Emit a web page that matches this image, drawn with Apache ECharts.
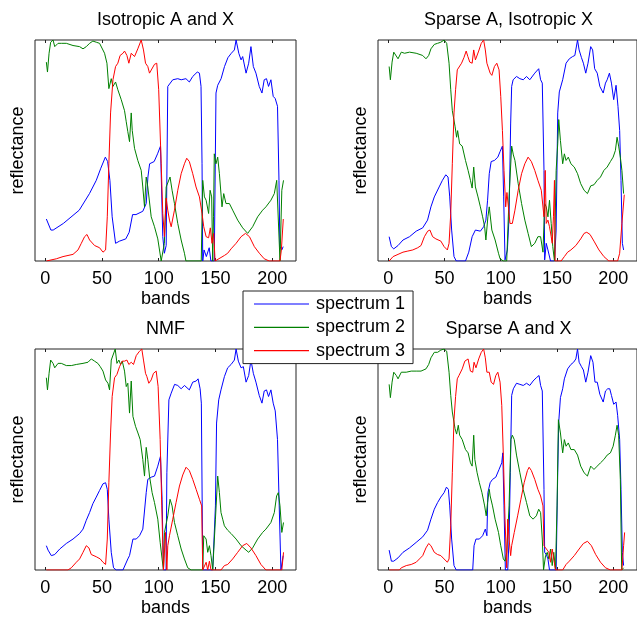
<!DOCTYPE html>
<html><head><meta charset="utf-8">
<script src="https://cdn.jsdelivr.net/npm/echarts@6/dist/echarts.min.js"></script>
<style>html,body{margin:0;padding:0;background:#fff}#c{width:637px;height:618px}</style>
</head><body><div id="c"></div>
<script>
// ---- tick labels, titles, names ----
const tickValues = [0, 50, 100, 150, 200];
const panelTitles = ['Isotropic A and X', 'Sparse A, Isotropic X', 'NMF', 'Sparse A and X'];
const seriesNames = ['spectrum 1', 'spectrum 2', 'spectrum 3'];

// ---- Panel 1: Isotropic A and X  [band, reflectance] ----
const isoS1 = [[1,0.19],[5,0.14],[7,0.14],[16,0.17],[30,0.23],[39,0.305],[45,0.365],[49,0.42],[53,0.47],[55,0.45],[57,0.365],[59,0.20],[62,0.08],[65.5,0.09],[71,0.10],[74,0.13],[77,0.21],[80,0.21],[86,0.225],[89,0.26],[90.5,0.38],[92,0.44],[96,0.45],[99,0.485],[101.6,0.52],[103.6,0.11],[105,0.035],[106.6,0.07],[108,0.79],[109.5,0.795],[112.4,0.82],[116.8,0.825],[119.8,0.82],[124,0.825],[127,0.81],[130,0.835],[134,0.855],[135.9,0.85],[137.3,0.79],[138.2,0.44],[138.8,0],[140,0.05],[142,0.02],[144.5,0.06],[146,0],[149,0],[150.5,0.76],[152,0.795],[155,0.825],[158,0.88],[161,0.92],[164,0.94],[166.7,0.955],[168.2,1.0],[170.6,0.94],[172.6,0.91],[174,0.925],[177,0.85],[179.3,0.895],[181.3,0.97],[183.4,0.88],[185.7,0.85],[188.6,0.79],[191,0.76],[193,0.82],[195,0.825],[196.8,0.79],[198.9,0.82],[200.9,0.745],[202.7,0.735],[204.7,0.70],[206,0.365],[206.8,0.065],[208.5,0.05],[209.7,0.065]];
const isoS2 = [[1,0.90],[2,0.855],[3.4,0.94],[4.8,0.99],[6.9,1.0],[8.4,0.97],[11.3,0.985],[14.2,0.985],[18.6,0.985],[24.5,0.975],[30.3,0.97],[33.3,0.96],[36.2,0.97],[39.1,0.985],[42,0.995],[45,0.99],[47.9,0.985],[49.4,0.99],[52.3,0.94],[54.4,0.895],[56.1,0.78],[58.2,0.825],[59.7,0.79],[62,0.81],[64,0.775],[67,0.73],[69.9,0.68],[71.4,0.63],[72.8,0.585],[74.3,0.54],[75.8,0.67],[76.7,0.59],[78.7,0.51],[81.6,0.455],[84.6,0.41],[86,0.335],[87.5,0.245],[89,0.38],[90.4,0.335],[93.4,0.20],[96.3,0.155],[99.2,0.10],[102.2,0],[105,0.08],[106.6,0.335],[108,0.335],[110,0.38],[111.8,0.32],[113.9,0.26],[116.8,0.17],[119.8,0.095],[122.7,0.035],[124,0],[137.5,0],[138.8,0.365],[140.3,0.29],[141.8,0.275],[144,0.215],[145.3,0.32],[146.7,0.29],[147.6,0],[148.3,0.2],[149,0.485],[150.5,0.44],[152,0.47],[153.5,0.395],[155.8,0.245],[157.3,0.305],[159.3,0.26],[162.3,0.26],[165.2,0.23],[169.6,0.185],[174,0.15],[178.4,0.125],[182.8,0.155],[187.2,0.20],[191.6,0.23],[194.5,0.245],[198.9,0.275],[201.9,0.305],[204,0.365],[205.7,0.36],[206.9,0],[208.5,0.32],[210,0.365]];
const isoS3 = [[1,0],[9.8,0.01],[15.7,0.02],[24.5,0.03],[28.9,0.05],[31.8,0.08],[34.7,0.11],[36.8,0.12],[39.1,0.095],[43.5,0.07],[47.9,0.06],[50.9,0.04],[53.2,0.05],[54.7,0.20],[56.1,0.44],[57.6,0.67],[59.7,0.82],[62,0.88],[64,0.895],[66,0.93],[68.5,0.94],[69.9,0.95],[72,0.93],[73.7,0.895],[75.8,0.94],[78.7,0.925],[81.6,0.96],[84.6,1.0],[86.6,0.955],[88.4,0.895],[90.4,0.88],[91.9,0.85],[93.4,0.855],[96.3,0.89],[98.3,0.895],[100,0.775],[102.2,0.44],[103.6,0.215],[105.1,0.11],[106.6,0.285],[108,0.23],[109.5,0.185],[111,0.155],[113.9,0.23],[116.8,0.32],[119.8,0.395],[122.7,0.44],[124.7,0.465],[127,0.45],[130,0.395],[132.9,0.335],[135.9,0.29],[138.2,0.215],[139.7,0.155],[141.8,0.11],[144,0.105],[145.5,0.15],[147,0.08],[148.5,0.125],[149.7,0],[157.9,0.025],[160.8,0.035],[163.8,0.055],[168.2,0.08],[172.6,0.11],[176.5,0.125],[180,0.11],[184.3,0.065],[188.7,0.035],[193,0.01],[197.4,0],[206.9,0],[208.1,0.05],[209.8,0.19]];

// ---- Panel 2: Sparse A, Isotropic X ----
const spaS1 = [[0.9,0.11],[2.9,0.065],[5,0.055],[8.8,0.07],[13.2,0.095],[19,0.11],[24.9,0.135],[30.7,0.15],[35,0.185],[38,0.245],[41,0.29],[45.3,0.335],[48.2,0.365],[51.2,0.39],[53.2,0.38],[54.7,0.29],[56.4,0.14],[58.5,0.02],[60.5,0],[68.7,0],[71.6,0.04],[74.6,0.11],[77.5,0.14],[81.9,0.135],[84.8,0.155],[86.8,0.185],[88.3,0.275],[89.8,0.395],[91.5,0.45],[94.4,0.455],[97.4,0.47],[99.4,0.495],[101.5,0.52],[102.6,0.29],[103.8,0.005],[105.3,0.005],[105.9,0.05],[107.4,0.20],[108.8,0.62],[109.7,0.79],[111,0.82],[114,0.835],[117,0.825],[120,0.82],[122.9,0.835],[125.8,0.82],[130.2,0.85],[133.7,0.87],[135.4,0.82],[136.9,0.805],[138.4,0.41],[139,0.005],[140.4,0.08],[141.9,0.05],[144.2,0],[147.7,0],[149.2,0.14],[150.6,0.67],[152,0.765],[155,0.82],[158,0.895],[160.9,0.915],[163.8,0.925],[165.8,0.93],[168.2,1.0],[169.6,0.955],[171.7,0.92],[173.4,0.895],[175.5,0.85],[177.5,0.895],[179.9,0.97],[181.6,0.955],[183.4,0.87],[185.7,0.85],[188,0.79],[191,0.76],[193,0.805],[194.5,0.82],[196.5,0.85],[198.3,0.805],[200.3,0.73],[202.4,0.795],[204.1,0.70],[205.6,0.59],[206.8,0.365],[208,0.08],[209.1,0.05]];
const spaS2 = [[0.9,0.88],[2,0.82],[3.5,0.90],[5,0.945],[6.7,0.94],[8.8,0.915],[11.7,0.945],[14.6,0.94],[19,0.945],[24.9,0.94],[30.7,0.93],[33.6,0.915],[36,0.93],[38,0.96],[41,0.98],[43.9,0.985],[46.8,0.99],[49.7,1.0],[52,0.985],[54.1,0.895],[55.6,0.775],[57,0.68],[59.4,0.61],[60.8,0.56],[61.7,0.59],[63.5,0.53],[65.8,0.52],[68.7,0.455],[71,0.41],[73.1,0.365],[74.6,0.33],[76,0.425],[77.5,0.335],[79.8,0.29],[81.9,0.245],[83.9,0.20],[85.7,0.155],[86.8,0.095],[88.6,0.20],[89.8,0.245],[92.1,0.14],[95,0.095],[98,0.035],[99.4,0.01],[102.3,0],[105.3,0],[107.4,0.29],[109.7,0.52],[111.2,0.48],[112.6,0.455],[115.5,0.35],[118.5,0.26],[121.4,0.185],[124.3,0.125],[127.2,0.065],[130.2,0.08],[133,0.11],[135.4,0.11],[137.5,0.04],[139,0.26],[140.4,0.245],[141.9,0.20],[143.3,0.275],[144.8,0.17],[146.2,0.065],[147.7,0],[149.2,0.41],[150.6,0.53],[151.5,0.64],[153,0.545],[155,0.44],[156.5,0.485],[158,0.455],[160,0.47],[162.3,0.44],[165.3,0.425],[168.2,0.395],[171,0.35],[174,0.32],[177,0.305],[179.9,0.34],[182.8,0.345],[185.7,0.365],[188.6,0.38],[191.6,0.41],[194.5,0.425],[197.4,0.45],[199.8,0.47],[201.8,0.50],[203.3,0.56],[204.7,0.52],[206.2,0.47],[207.6,0.41],[209.1,0.305]];
const spaS3 = [[0.9,0],[4.4,0.02],[8.8,0.03],[13.2,0.04],[17.5,0.045],[21.9,0.05],[26.3,0.06],[29.2,0.07],[32.2,0.11],[35.1,0.135],[37.1,0.14],[39.5,0.11],[42.4,0.10],[46.8,0.09],[49.7,0.065],[52.6,0.05],[54.1,0.08],[55.6,0.215],[57,0.44],[58.5,0.67],[59.9,0.775],[61.4,0.865],[62.9,0.87],[65.2,0.895],[67.3,0.92],[69.3,0.95],[70.8,0.925],[72.5,0.90],[74.6,0.895],[76,0.955],[77.5,0.91],[80.4,0.95],[82.7,0.985],[84.8,1.0],[86.3,0.955],[87.7,0.895],[89.2,0.895],[90.6,0.85],[92.1,0.84],[94.4,0.88],[96.5,0.895],[98.5,0.865],[100,0.745],[101.5,0.59],[102.9,0.41],[104.4,0.245],[105.5,0.31],[106.8,0.245],[108.2,0.17],[110.3,0.17],[112.6,0.23],[115.5,0.32],[118.5,0.395],[121.4,0.44],[124.3,0.47],[127.2,0.45],[130.2,0.41],[133,0.365],[136,0.32],[138.4,0.20],[139.5,0.41],[140.4,0.17],[141.9,0.185],[143.3,0.155],[144.8,0.11],[145.7,0.08],[146.8,0.20],[147.7,0.365],[148.3,0],[153.6,0],[156.5,0.02],[159.4,0.04],[162.3,0.05],[166.7,0.07],[171,0.10],[174,0.125],[176.4,0.13],[179.3,0.12],[182.8,0.09],[187.2,0.05],[191.6,0.02],[196,0],[203.8,0],[205.6,0.035],[207.6,0.17],[209.7,0.30]];

// ---- Panel 3: NMF ----
const nmfS1 = [[1,0.11],[2.5,0.09],[5.4,0.065],[8.4,0.07],[12.8,0.095],[18.6,0.12],[24.5,0.14],[30.3,0.165],[33.3,0.185],[36.2,0.225],[39.1,0.26],[42,0.30],[45,0.33],[47.9,0.36],[50.9,0.39],[53.2,0.395],[54.7,0.365],[56.1,0.23],[58.2,0.08],[60.2,0.01],[62.6,0],[68.5,0],[72.8,0.05],[74.3,0.065],[77.3,0.14],[80.2,0.14],[83.1,0.155],[86,0.185],[87.5,0.185],[89,0.35],[90.4,0.41],[93.4,0.42],[96.3,0.425],[99.2,0.47],[101.6,0.515],[103,0.32],[104.2,0],[106.5,0],[107.2,0.44],[109,0.77],[111,0.80],[114,0.84],[116.8,0.835],[119.8,0.82],[122.7,0.835],[127,0.815],[130,0.85],[133,0.855],[134.7,0.865],[136.5,0.82],[137.6,0.755],[138.8,0],[147.6,0],[150,0.29],[151,0.665],[152.9,0.77],[154.9,0.815],[157.9,0.875],[160.8,0.915],[163.8,0.93],[166.7,0.95],[168.2,1.0],[170.2,0.945],[172.6,0.915],[174.6,0.92],[177,0.85],[179.3,0.88],[181.3,0.95],[183.4,0.89],[185.7,0.85],[188.6,0.79],[191,0.755],[193,0.81],[195,0.815],[196.8,0.785],[198.9,0.815],[200.9,0.755],[202.7,0.72],[204.7,0.59],[206.2,0.29],[207.7,0],[209.7,0.065]];
const nmfS2 = [[1,0.87],[2,0.815],[3.4,0.89],[4.8,0.95],[6.9,0.935],[8.4,0.915],[11.3,0.935],[14.2,0.935],[18.6,0.925],[23,0.925],[27.4,0.93],[33.3,0.935],[37.7,0.94],[40.6,0.955],[43.5,0.945],[46.4,0.935],[48.5,0.92],[50.9,0.90],[53.2,0.86],[55.3,0.845],[56.7,0.815],[58.2,0.95],[59.7,0.95],[61.7,1.0],[63.2,0.935],[64.9,0.95],[66.4,0.93],[67.9,0.945],[69.9,0.90],[71.4,0.83],[72.8,0.845],[74.3,0.71],[75.8,0.855],[77.3,0.695],[79.6,0.65],[81.7,0.62],[83.7,0.59],[86,0.50],[87.5,0.425],[89,0.555],[90.4,0.50],[91.9,0.425],[94.2,0.35],[96.3,0.305],[99.2,0.23],[101.3,0.125],[103,0.05],[104.2,0],[105.1,0.17],[108,0.245],[110,0.32],[111.8,0.29],[113.9,0.215],[116.8,0.155],[119.8,0.095],[122.7,0.05],[125.6,0.01],[128.6,0],[138.8,0],[139.7,0.155],[141.8,0.14],[143.2,0.08],[144.7,0.11],[146.1,0.065],[147.6,0],[150,0.23],[152,0.425],[153.5,0.35],[154.9,0.26],[156.4,0.23],[157.9,0.20],[160.8,0.18],[163.8,0.165],[168.2,0.14],[172.6,0.11],[177,0.09],[179.3,0.08],[182.8,0.10],[187.2,0.14],[191.6,0.17],[194.5,0.185],[198.9,0.215],[201.9,0.26],[203.9,0.335],[205.4,0.35],[206.9,0.29],[208.5,0.17],[210,0.215]];
const nmfS3 = [[1,0],[20,0],[23,0.01],[27.4,0.035],[30.3,0.05],[33.3,0.08],[36.2,0.11],[38.5,0.10],[40.6,0.07],[45,0.06],[48.5,0.05],[50.9,0.035],[53.2,0.025],[54.7,0.14],[56.1,0.395],[57.6,0.62],[59,0.785],[61.1,0.87],[63.2,0.885],[65.5,0.92],[67.9,0.945],[69.9,0.945],[72,0.95],[73.7,0.93],[75.8,0.94],[77.8,0.93],[80.2,0.97],[83.1,0.99],[85.1,1.0],[86.6,0.95],[88.4,0.89],[89.6,0.875],[91.3,0.845],[93.4,0.86],[95.4,0.89],[97.8,0.90],[99.5,0.83],[101.3,0.59],[102.7,0.29],[104.2,0],[106,0.17],[107.2,0],[108,0.11],[109.5,0.155],[112.4,0.23],[115.3,0.305],[118.3,0.38],[121.2,0.43],[124.1,0.465],[127,0.45],[130,0.41],[133,0.365],[135.9,0.32],[137.9,0.29],[138.8,0],[141.8,0.035],[143.2,0],[144.7,0.04],[146.1,0],[154.9,0],[157.9,0.02],[160.8,0.025],[165.2,0.05],[169.6,0.08],[174,0.11],[177.6,0.12],[181.3,0.10],[185.7,0.065],[190.1,0.025],[194.5,0],[208.5,0],[210,0.08]];

// ---- Panel 4: Sparse A and X ----
const saxS1 = [[0.9,0.09],[2.9,0.04],[5,0.04],[8.8,0.055],[13.2,0.08],[19,0.10],[24.9,0.125],[30.7,0.15],[35,0.18],[38,0.23],[41,0.275],[43.9,0.305],[46.8,0.33],[49.7,0.35],[51.8,0.375],[53.5,0.365],[54.7,0.29],[56.4,0.14],[58.5,0.02],[60.5,0],[75.1,0],[76.3,0.11],[78,0.14],[81,0.14],[83.9,0.155],[86.3,0.185],[87.7,0.155],[88.6,0.35],[90.6,0.395],[92.7,0.41],[95.6,0.42],[98.5,0.455],[100.9,0.485],[101.8,0.53],[102.9,0.29],[104.1,0],[106.2,0],[107.4,0.14],[108.5,0.44],[109.7,0.79],[111.2,0.82],[114,0.845],[117,0.84],[120,0.835],[122.9,0.845],[125.8,0.835],[128.7,0.855],[131.6,0.87],[134,0.88],[135.4,0.835],[136.9,0.81],[138.4,0.365],[139,0.08],[140.4,0.07],[141.9,0.05],[143.3,0],[149.2,0],[150.6,0.44],[151.5,0.67],[153,0.78],[155,0.82],[156.5,0.865],[159.4,0.91],[162.3,0.93],[164.7,0.94],[166.7,0.955],[168.2,1.0],[169.6,0.94],[171.7,0.92],[173.4,0.905],[175.5,0.85],[177.5,0.895],[179.9,0.97],[181.9,0.94],[183.7,0.85],[185.7,0.85],[188,0.795],[191,0.76],[193,0.81],[195,0.82],[196.8,0.82],[198.3,0.79],[200.3,0.75],[202.4,0.76],[203.8,0.70],[205.6,0.59],[206.8,0.365],[208,0.08],[209.1,0.02]];
const saxS2 = [[0.9,0.84],[2,0.78],[3.5,0.85],[5,0.895],[7.3,0.88],[8.8,0.865],[11.7,0.895],[16.1,0.895],[20.5,0.90],[24.9,0.90],[29.2,0.90],[33.6,0.91],[36,0.93],[38,0.96],[41,0.985],[43.9,0.985],[46.8,0.995],[49.7,1.0],[52,0.99],[54.1,0.895],[55.6,0.79],[57,0.715],[59.4,0.64],[60.8,0.615],[62.3,0.655],[63.5,0.61],[65.8,0.59],[68.7,0.545],[71,0.53],[73.1,0.485],[74.6,0.47],[76,0.61],[77,0.50],[79,0.44],[81,0.395],[83.3,0.35],[85.7,0.29],[87.1,0.245],[88.3,0.305],[89.8,0.365],[90.6,0.335],[92.7,0.29],[95,0.23],[98,0.17],[100,0.11],[102.3,0.05],[103.8,0.04],[105.3,0.08],[107.4,0.29],[109,0.59],[110.3,0.61],[112,0.59],[114,0.52],[117,0.44],[119.9,0.365],[122.9,0.305],[125.8,0.245],[128.7,0.23],[131.6,0.245],[133.7,0.275],[135.4,0.26],[136.9,0.14],[138,0],[139.8,0.065],[141.3,0.08],[142.7,0.05],[144.2,0.095],[145.7,0.02],[147.1,0.08],[148.6,0],[150,0.29],[151.2,0.68],[153,0.62],[155,0.53],[156.5,0.59],[158,0.56],[160,0.575],[162.3,0.545],[165.3,0.545],[168.2,0.52],[171,0.47],[174,0.44],[177,0.425],[179.9,0.47],[182.8,0.455],[185.7,0.47],[188.6,0.485],[191.6,0.50],[194.5,0.52],[197.4,0.53],[199.8,0.56],[201.8,0.61],[203.3,0.655],[204.7,0.61],[206.2,0.41],[207.4,0],[209.1,0.01]];
const saxS3 = [[0.9,0],[10,0],[11.7,0.01],[16.1,0.02],[20.5,0.025],[24.9,0.035],[27.8,0.05],[30.7,0.065],[33.6,0.10],[36,0.12],[38,0.11],[41,0.08],[43.9,0.07],[46.8,0.065],[49.7,0.05],[52.6,0.035],[54.1,0.05],[55.6,0.20],[57,0.44],[58.5,0.68],[59.9,0.785],[61.4,0.865],[62.9,0.88],[65.8,0.91],[68.1,0.945],[69.6,0.94],[71,0.955],[73.1,0.90],[75.1,0.895],[76.3,0.94],[78,0.915],[80.4,0.955],[82.7,0.985],[84.8,1.0],[86.3,0.96],[87.7,0.895],[89.8,0.895],[91.5,0.85],[93.6,0.84],[95.6,0.88],[97.4,0.895],[99.4,0.85],[100.9,0.745],[102.3,0.52],[103.8,0.23],[105.3,0.01],[106.2,0.23],[107.4,0.14],[108.8,0.065],[109.7,0.11],[112,0.17],[115,0.245],[117.9,0.32],[120.8,0.395],[123.7,0.45],[125.2,0.465],[127.2,0.45],[130.2,0.41],[133,0.365],[135.4,0.335],[137.5,0.29],[138.4,0.11],[139.8,0.10],[141.3,0.09],[142.7,0.08],[144.2,0.035],[145.7,0.095],[147.1,0.05],[148.6,0],[155,0],[158,0.025],[160.9,0.04],[165.3,0.065],[169.6,0.095],[173.4,0.12],[177,0.13],[180.5,0.11],[184.3,0.07],[188.6,0.035],[193,0.01],[197.4,0],[207.6,0],[209.1,0.11],[210,0.17]];

const panelData = [[isoS1, isoS2, isoS3], [spaS1, spaS2, spaS3], [nmfS1, nmfS2, nmfS3], [saxS1, saxS2, saxS3]];
const colors = ['#0000ff', '#008000', '#ff0000'];

// ---- layout ----
const FONT = '"Liberation Sans", Arial, Helvetica, sans-serif';
const grids = [
  {left: 35, top: 40, width: 261, height: 221},
  {left: 378, top: 40, width: 261, height: 221},
  {left: 35, top: 349, width: 261, height: 222},
  {left: 378, top: 349, width: 261, height: 222}
];

const option = {
  animation: false,
  backgroundColor: '#fff',
  textStyle: {fontFamily: FONT},
  title: grids.map((g, i) => ({
    text: panelTitles[i], left: g.left + g.width / 2, top: g.top - 29, textAlign: 'center', padding: 0,
    textStyle: {fontSize: 18, fontWeight: 'normal', color: '#000', fontFamily: FONT}
  })),
  grid: grids.map(g => Object.assign({show: true, borderColor: '#222', borderWidth: 1, backgroundColor: 'transparent', containLabel: false}, g)),
  xAxis: [],
  yAxis: [],
  legend: {
    data: seriesNames.map(n => ({name: n, icon: 'rect'})), orient: 'vertical', left: 243, top: 291,
    padding: [4, 8, 4, 11], itemWidth: 55, itemHeight: 1.2, itemGap: 5.3,
    backgroundColor: '#fff', borderColor: '#222', borderWidth: 1, borderRadius: 0,
    textStyle: {fontSize: 18, color: '#000', fontFamily: FONT, padding: [0, 0, 0, 2], lineHeight: 18},
    z: 20
  },
  series: []
};

grids.forEach((g, i) => {
  option.xAxis.push({
    type: 'value', gridIndex: i, min: -9, max: 221, position: 'bottom',
    name: 'bands', nameLocation: 'middle', nameGap: 29,
    nameTextStyle: {fontSize: 18, color: '#000', fontFamily: FONT},
    axisLine: {show: false},
    axisTick: {show: true, inside: true, length: 3, lineStyle: {color: '#222'}, customValues: tickValues},
    axisLabel: {show: true, fontSize: 18, color: '#000', margin: 9, fontFamily: FONT, customValues: tickValues},
    splitLine: {show: false}
  });
  option.yAxis.push({
    type: 'value', gridIndex: i, min: 0, max: 1,
    name: 'reflectance', nameLocation: 'middle', nameGap: 8,
    nameTextStyle: {fontSize: 18, color: '#000', fontFamily: FONT},
    axisLine: {show: false}, axisTick: {show: false}, axisLabel: {show: false}, splitLine: {show: false}
  });
});
grids.forEach((g, i) => {
  option.xAxis.push({
    type: 'value', gridIndex: i, min: -9, max: 221, position: 'top',
    axisLine: {show: false},
    axisTick: {show: true, inside: true, length: 3, lineStyle: {color: '#222'}, customValues: tickValues},
    axisLabel: {show: false}, splitLine: {show: false}
  });
});

panelData.forEach((set, i) => {
  set.forEach((arr, k) => {
    option.series.push({
      type: 'line', name: seriesNames[k], xAxisIndex: i, yAxisIndex: i,
      data: arr, symbol: 'none', showSymbol: false, clip: true,
      lineStyle: {color: colors[k], width: 1}, itemStyle: {color: colors[k]}
    });
  });
});

const chart = echarts.init(document.getElementById('c'), null, {renderer: 'canvas'});
chart.setOption(option);
</script>
</body></html>
